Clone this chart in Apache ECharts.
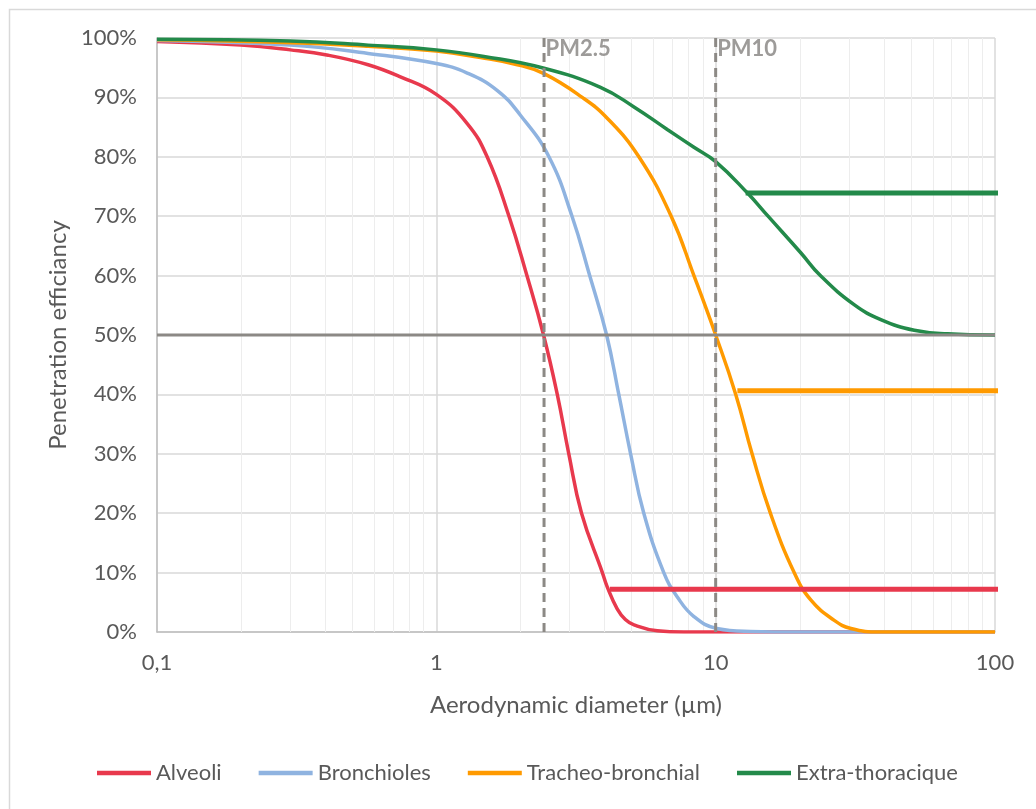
<!DOCTYPE html>
<html>
<head>
<meta charset="utf-8">
<script src="https://cdn.jsdelivr.net/npm/echarts@6/dist/echarts.min.js"></script>
<style>
html,body{margin:0;padding:0;background:#fff;}
#chart{width:1036px;height:809px;}
</style>
</head>
<body>
<div id="chart"></div>
<script>
// ---- Data ----
const seriesNames = ['Alveoli', 'Bronchioles', 'Tracheo-bronchial', 'Extra-thoracique'];

const alveoliX = [0.1, 0.2, 0.3, 0.41, 0.57, 0.74, 1.0, 1.29, 1.52, 1.82, 2.11, 2.42, 2.71, 2.98, 3.31, 3.93, 4.09, 4.44, 4.75, 5.1, 6.18, 7.7, 10, 20, 50, 100];
const alveoliY = [99.4, 98.8, 98.0, 97.1, 95.5, 93.5, 90.5, 85.6, 80.0, 70.0, 60.0, 50.0, 40.0, 30.0, 20.0, 10.0, 7.6, 3.9, 2.1, 1.2, 0.2, 0, 0, 0, 0, 0];

const bronchiolesX = [0.1, 0.3, 0.57, 1.0, 1.29, 1.65, 2.0, 2.53, 3.06, 3.54, 4.07, 4.5, 4.96, 5.53, 6.52, 7.29, 8.36, 10.1, 13.3, 20, 50, 100];
const bronchiolesY = [99.6, 98.8, 97.4, 95.7, 94.1, 91.2, 87.0, 80.0, 70.0, 60.0, 50.0, 40.0, 30.0, 20.0, 10.0, 5.9, 2.6, 0.6, 0.1, 0, 0, 0];

const tracheoX = [0.1, 0.3, 0.57, 1.0, 1.44, 1.95, 2.43, 3.33, 4.09, 5.31, 6.93, 8.36, 10.0, 11.8, 13.5, 15.7, 19.1, 21.9, 26.5, 30.5, 38.7, 60, 100];
const tracheoY = [99.7, 99.2, 98.6, 97.8, 96.7, 95.5, 94.0, 90.0, 86.5, 80.0, 70.0, 60.0, 50.0, 40.0, 30.0, 20.0, 10.0, 5.4, 2.0, 0.6, 0, 0, 0];

const extraX = [0.1, 0.3, 0.57, 1.0, 1.48, 2.43, 3.87, 5.1, 6.71, 8.36, 10, 13.0, 15.4, 20.2, 23.7, 31.3, 39.0, 51.4, 67.6, 100];
const extraY = [99.8, 99.5, 98.8, 98.0, 96.9, 94.9, 91.7, 88.4, 84.6, 81.6, 79.2, 73.9, 70.0, 63.8, 60.0, 55.1, 52.6, 50.8, 50.2, 50.0];

// plateau (horizontal) lines: start diameter, end diameter, level
const plateauStartX = [4.18, 11.96, 12.8];
const plateauEndX = 141;
const plateauLevel = [7.2, 40.6, 73.9];

// reference lines
const halfLevel = 50;
const halfLineX = [0.1, 100];
const pmX = [2.43, 10];
const pmLabels = ['PM2.5', 'PM10'];

// axis ticks
const xMin = 0.1, xMax = 100;
const yMin = 0, yMax = 100, yStep = 10;
const minorTicksX = [0.2,0.3,0.4,0.5,0.6,0.7,0.8,0.9,2,3,4,5,6,7,8,9,20,30,40,50,60,70,80,90];

// ---- Styles ----
const colors = ['#E8394D', '#8FB3E0', '#FF9A00', '#238A4A'];
const gray = '#8C8985';
const textColor = '#595959';
const FONT = 'Lato';

function pairs(xs, ys) { return xs.map((x, i) => [x, ys[i]]); }

const curveData = [
  pairs(alveoliX, alveoliY),
  pairs(bronchiolesX, bronchiolesY),
  pairs(tracheoX, tracheoY),
  pairs(extraX, extraY)
];

const series = [];

// minor vertical grid lines (log minor ticks)
series.push({
  type: 'line', name: '_minor', data: [], z: 1, silent: true,
  markLine: {
    z: 1, silent: true, symbol: 'none', animation: false,
    label: {show: false},
    lineStyle: {color: '#EDEDED', width: 1, type: 'solid'},
    data: minorTicksX.map(v => ({xAxis: v}))
  }
});

curveData.forEach((d, i) => {
  series.push({
    type: 'line', name: seriesNames[i], data: d,
    smooth: 0.45,
    showSymbol: false, symbol: 'none',
    lineStyle: {color: colors[i], width: 3.5},
    itemStyle: {color: colors[i]},
    z: 3
  });
});

// plateau lines for Alveoli, Tracheo-bronchial, Extra-thoracique
const plateauColorIdx = [0, 2, 3];
plateauStartX.forEach((sx, i) => {
  series.push({
    type: 'line', name: '_plateau' + i,
    data: [[sx, plateauLevel[i]], [plateauEndX, plateauLevel[i]]],
    showSymbol: false, symbol: 'none', clip: false,
    lineStyle: {color: colors[plateauColorIdx[i]], width: 5},
    z: 4, silent: true
  });
});

// 50% line
series.push({
  type: 'line', name: '_half',
  data: halfLineX.map(x => [x, halfLevel]),
  showSymbol: false, symbol: 'none',
  lineStyle: {color: gray, width: 3},
  z: 5, silent: true
});

// PM dashed lines
pmX.forEach((x, i) => {
  series.push({
    type: 'line', name: '_pm' + i,
    data: [[x, yMin], [x, yMax]],
    showSymbol: false, symbol: 'none',
    lineStyle: {color: gray, width: 3, type: [9, 6]},
    z: 5, silent: true
  });
  series.push({
    type: 'scatter', name: '_pmlabel' + i,
    data: [[x, yMax]],
    symbolSize: 1, itemStyle: {color: 'rgba(0,0,0,0)'},
    label: {
      show: true, position: 'right', distance: 1, offset: [0, 11],
      formatter: pmLabels[i],
      fontFamily: FONT, fontWeight: 'bold', fontSize: 22, color: '#858280'
    },
    z: 6, silent: true
  });
});

const chart = echarts.init(document.getElementById('chart'), null, {renderer: 'canvas'});
chart.setOption({
  animation: false,
  backgroundColor: '#fff',
  textStyle: {fontFamily: FONT},
  graphic: [{
    type: 'rect', left: 7, top: 7, z: -10, silent: true,
    shape: {x: 0, y: 0, width: 1200, height: 1000},
    style: {fill: 'none', stroke: '#D9D9D9', lineWidth: 1.5}
  }],
  grid: {left: 157, right: 41, top: 38, bottom: 177, containLabel: false},
  xAxis: {
    type: 'log', logBase: 10, min: xMin, max: xMax,
    name: 'Aerodynamic diameter (µm)', nameLocation: 'middle', nameGap: 61,
    nameTextStyle: {fontFamily: FONT, fontSize: 24, color: textColor},
    axisLine: {show: true, lineStyle: {color: '#BFBFBF', width: 1.5}},
    axisTick: {show: false},
    axisLabel: {
      fontFamily: FONT, fontSize: 22, color: textColor, margin: 20,
      formatter: v => String(+Number(v).toPrecision(3)).replace('.', ',')
    },
    splitLine: {show: true, lineStyle: {color: '#D9D9D9', width: 1.5}}
  },
  yAxis: {
    type: 'value', min: yMin, max: yMax, interval: yStep,
    name: 'Penetration efficiancy', nameLocation: 'middle', nameGap: 83, nameRotate: 90,
    nameTextStyle: {fontFamily: FONT, fontSize: 24, color: textColor},
    axisLine: {show: true, lineStyle: {color: '#BFBFBF', width: 1.5}},
    axisTick: {show: false},
    axisLabel: {fontFamily: FONT, fontSize: 22, color: textColor, margin: 20, formatter: '{value}%'},
    splitLine: {show: true, lineStyle: {color: '#D9D9D9', width: 1.5}}
  },
  legend: {
    data: seriesNames.map(n => ({name: n, icon: 'rect'})),
    left: 97, top: 762, padding: 0,
    itemWidth: 54, itemHeight: 4.5, itemGap: 37,
    textStyle: {fontFamily: FONT, fontSize: 22, color: textColor},
    selectedMode: false
  },
  series: series
});
</script>
</body>
</html>
